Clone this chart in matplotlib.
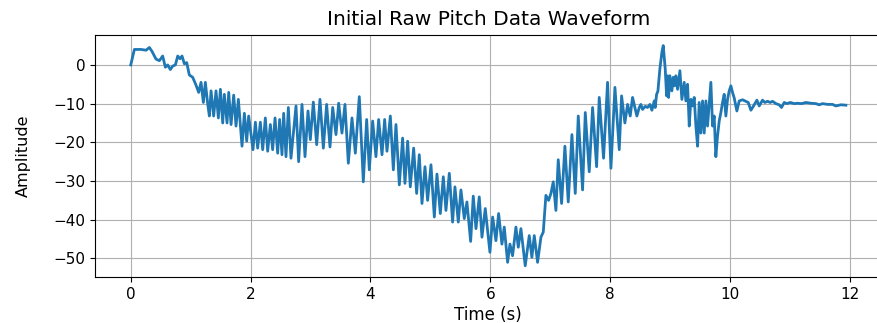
import matplotlib
matplotlib.use("Agg")
import matplotlib.pyplot as plt

time_s = [
    0.000, 0.061, 0.172, 0.255, 0.311, 0.355, 0.422, 0.478, 0.533, 0.578,
    0.617, 0.661, 0.700, 0.745, 0.784, 0.822, 0.856, 0.895, 0.934, 0.978,
    1.034, 1.089, 1.134, 1.173, 1.212, 1.245, 1.284, 1.312, 1.340, 1.384,
    1.423, 1.462, 1.496, 1.535, 1.562, 1.607, 1.635, 1.674, 1.718, 1.757,
    1.796, 1.857, 1.896, 1.935, 1.968, 2.040, 2.080, 2.118, 2.163, 2.202,
    2.246, 2.285, 2.330, 2.368, 2.408, 2.452, 2.485, 2.524, 2.552, 2.591,
    2.630, 2.674, 2.758, 2.802, 2.858, 2.908, 2.958, 2.997, 3.047, 3.103,
    3.158, 3.214, 3.269, 3.325, 3.370, 3.425, 3.470, 3.525, 3.575, 3.631,
    3.692, 3.748, 3.814, 3.881, 3.937, 3.981, 4.037, 4.092, 4.137, 4.193,
    4.237, 4.276, 4.332, 4.382, 4.426, 4.482, 4.537, 4.576, 4.621, 4.665,
    4.721, 4.771, 4.815, 4.860, 4.910, 4.954, 5.010, 5.066, 5.110, 5.166,
    5.216, 5.260, 5.316, 5.371, 5.410, 5.466, 5.510, 5.566, 5.610, 5.672,
    5.716, 5.761, 5.816, 5.861, 5.916, 5.994, 6.039, 6.094, 6.139, 6.194,
    6.233, 6.289, 6.328, 6.372, 6.428, 6.467, 6.511, 6.583, 6.650, 6.694,
    6.734, 6.789, 6.845, 6.884, 6.928, 6.973, 7.012, 7.051, 7.095, 7.134,
    7.190, 7.245, 7.301, 7.362, 7.418, 7.468, 7.540, 7.585, 7.651, 7.707,
    7.774, 7.818, 7.890, 7.957, 8.013, 8.080, 8.152, 8.191, 8.246, 8.291,
    8.335, 8.374, 8.446, 8.486, 8.513, 8.541, 8.586, 8.625, 8.664, 8.697,
    8.736, 8.752, 8.775, 8.797, 8.830, 8.864, 8.886, 8.919, 8.942, 8.958,
    8.975, 8.997, 9.030, 9.053, 9.075, 9.097, 9.125, 9.164, 9.197, 9.236,
    9.264, 9.292, 9.320, 9.347, 9.375, 9.403, 9.431, 9.459, 9.486, 9.514,
    9.542, 9.570, 9.598, 9.625, 9.653, 9.681, 9.709, 9.736, 9.764, 9.792,
    9.820, 9.848, 9.876, 9.903, 9.931, 9.959, 9.987, 10.015, 10.042, 10.070,
    10.115, 10.154, 10.210, 10.265, 10.304, 10.349, 10.393, 10.449, 10.488, 10.543,
    10.582, 10.627, 10.671, 10.710, 10.766, 10.821, 10.860, 10.905, 10.949, 11.005,
    11.072, 11.127, 11.194, 11.266, 11.350, 11.433, 11.489, 11.544, 11.628, 11.711,
    11.767, 11.850, 11.934,
]

amplitude = [
    0.0, 4.0, 4.0, 3.8, 4.5, 3.5, 1.5, 1.1, 2.3, -0.6,
    0.0, -1.2, -0.3, 0.0, 2.3, 1.6, 2.3, 0.3, 0.6, -2.6,
    -3.2, -5.2, -7.1, -4.5, -9.7, -4.5, -10.0, -13.2, -6.7, -13.2,
    -6.7, -13.7, -6.3, -15.0, -7.6, -15.0, -7.1, -15.4, -7.8, -15.8,
    -8.9, -21.0, -12.5, -19.7, -13.2, -21.9, -14.8, -21.5, -14.8, -21.9,
    -13.7, -22.3, -15.4, -21.9, -13.7, -22.8, -14.1, -23.2, -12.5, -23.7,
    -11.0, -24.1, -10.6, -25.0, -10.2, -23.7, -11.9, -19.3, -9.6, -20.6,
    -8.9, -21.5, -10.2, -21.2, -11.0, -18.0, -9.9, -17.6, -10.2, -25.4,
    -13.7, -22.8, -8.2, -30.2, -14.1, -27.1, -14.5, -23.7, -14.1, -23.2,
    -14.1, -22.3, -13.2, -27.1, -15.4, -31.0, -18.9, -30.6, -19.7, -31.5,
    -21.5, -33.2, -23.2, -35.8, -26.3, -35.0, -25.8, -39.3, -28.2, -38.4,
    -28.9, -37.6, -28.0, -40.6, -31.5, -40.6, -32.3, -39.7, -35.4, -45.6,
    -33.9, -42.3, -34.1, -44.5, -37.1, -48.4, -39.3, -45.4, -38.4, -46.3,
    -41.9, -51.0, -46.3, -49.3, -41.9, -47.1, -42.3, -51.9, -44.1, -49.7,
    -44.1, -51.0, -44.5, -43.2, -33.7, -35.0, -33.2, -30.2, -37.6, -24.5,
    -35.8, -21.0, -35.4, -18.0, -33.2, -13.2, -32.3, -12.3, -27.6, -11.0,
    -26.3, -8.4, -24.1, -4.5, -26.7, -5.8, -21.9, -8.0, -15.0, -10.2,
    -13.2, -8.4, -13.2, -11.0, -10.2, -11.5, -10.7, -11.0, -10.2, -11.7,
    -9.3, -11.0, -7.6, -6.8, -1.0, 3.3, 5.0, -1.0, -8.0, -2.8,
    -8.4, -2.8, -6.7, -3.2, -5.4, -2.8, -6.3, -1.5, -8.9, -4.5,
    -9.3, -5.0, -15.8, -8.9, -10.6, -8.4, -15.8, -21.0, -9.7, -17.6,
    -9.3, -17.6, -9.3, -15.8, -10.2, -4.5, -15.8, -13.2, -23.7, -18.4,
    -14.5, -12.3, -9.7, -7.6, -13.2, -8.9, -6.7, -5.4, -7.1, -8.5,
    -11.9, -9.3, -9.0, -9.4, -9.7, -11.7, -10.6, -9.1, -10.6, -9.1,
    -9.7, -9.4, -9.7, -9.4, -10.0, -10.3, -11.0, -9.7, -10.0, -9.7,
    -10.0, -9.9, -10.0, -9.7, -9.9, -10.0, -10.3, -10.0, -10.2, -10.2,
    -10.6, -10.3, -10.4,
]

title = "Initial Raw Pitch Data Waveform"
x_label = "Time (s)"
y_label = "Amplitude"

plt.rcParams["font.family"] = ["DejaVu Sans"]

fig = plt.figure(figsize=(8.77, 3.23), dpi=100)
ax = fig.add_axes([0.1083, 0.143, 0.897, 0.750])
ax.plot(time_s, amplitude, color="#1f77b4", linewidth=2.0)
ax.set_title(title, fontsize=14.5, pad=7)
ax.set_xlabel(x_label, fontsize=12, labelpad=3)
ax.set_ylabel(y_label, fontsize=11.5)
ax.yaxis.set_label_coords(-0.082, 0.5)
ax.tick_params(labelsize=11)
ax.set_xticks([0, 2, 4, 6, 8, 10, 12])
ax.set_yticks([0, -10, -20, -30, -40, -50])
ax.grid(True)
fig.savefig("out.png", dpi=100)
